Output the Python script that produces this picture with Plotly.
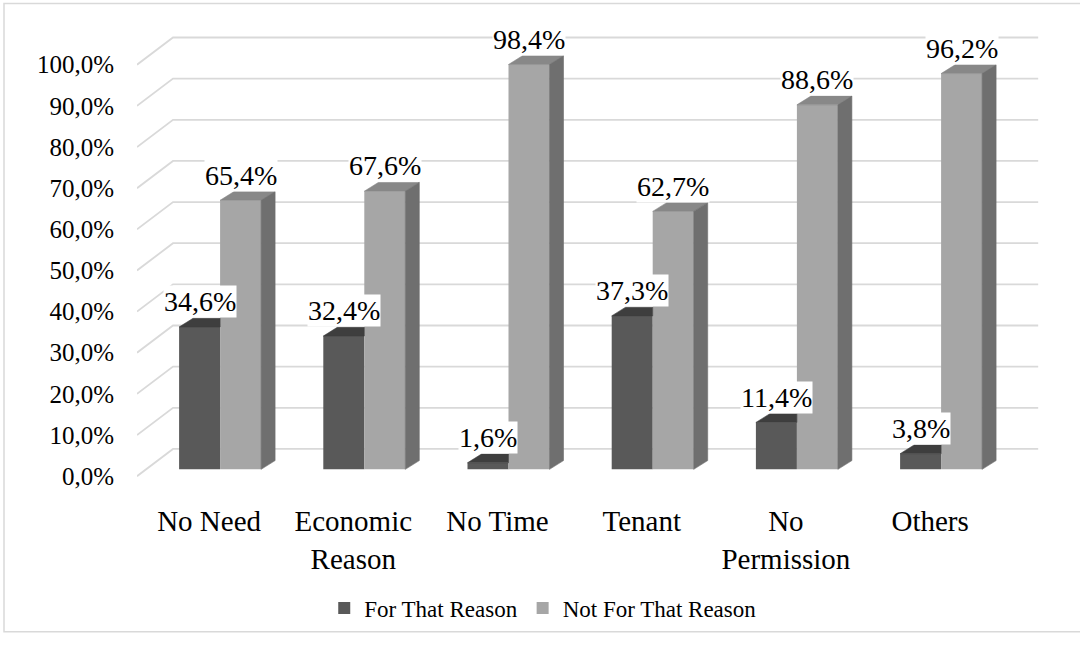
import plotly.graph_objects as go

# ---- data -------------------------------------------------------------
categories = ["No Need", "Economic<br>Reason", "No Time", "Tenant",
              "No<br>Permission", "Others"]
for_reason = [34.6, 32.4, 1.6, 37.3, 11.4, 3.8]
not_for_reason = [65.4, 67.6, 98.4, 62.7, 88.6, 96.2]
series_names = ["For That Reason", "Not For That Reason"]
y_ticks = [0, 10, 20, 30, 40, 50, 60, 70, 80, 90, 100]


def pct(v):
    return f"{v:.1f}".replace(".", ",") + "%"


y_tick_text = [pct(v) for v in y_ticks]

# ---- geometry of the pseudo-3D scene -----------------------------------
W, H = 1080, 652
M_L, M_R, M_T, M_B = 137, 35, 20, 157
PX_PER_CAT = 144.2          # pixels per category step
PX_PER_PCT = 4.23           # pixels per percentage point
FLOOR_PX = 489              # pixel row of the front floor edge (0 %)

plot_w = W - M_L - M_R
plot_h = H - M_T - M_B
x_range = [-0.5, -0.5 + plot_w / PX_PER_CAT]
y_lo = -((H - M_B) - FLOOR_PX) / PX_PER_PCT
y_range = [y_lo, y_lo + plot_h / PX_PER_PCT]


def dx(px):
    return px / PX_PER_CAT


def dy(px):
    return px / PX_PER_PCT


WALL_DX, WALL_DY = dx(36), dy(28)      # floor front edge -> back wall
FRONT_DX, FRONT_DY = dx(11), dy(7)     # floor front edge -> bar front faces
DEPTH_DX, DEPTH_DY = dx(14), dy(9)     # bar thickness in depth
BAR_W = dx(41)

DARK_FRONT, DARK_TOP = "#595959", "#3e3e3e"
LIGHT_FRONT, LIGHT_TOP, LIGHT_SIDE = "#a6a6a6", "#888888", "#6f6f6f"
GRID = "#d9d9d9"
FONT = "Liberation Serif"

pos = list(range(len(categories)))
bar_x = [p + FRONT_DX for p in pos]

fig = go.Figure()

# front faces
fig.add_trace(go.Bar(
    x=bar_x, y=for_reason, base=FRONT_DY, width=BAR_W, offset=-BAR_W,
    name=series_names[0], marker=dict(color=DARK_FRONT, line=dict(width=0)),
))
fig.add_trace(go.Bar(
    x=bar_x, y=not_for_reason, base=FRONT_DY, width=BAR_W, offset=0,
    name=series_names[1], marker=dict(color=LIGHT_FRONT, line=dict(width=0)),
))


def face(xs, ys, color):
    fig.add_trace(go.Scatter(
        x=xs + [xs[0]], y=ys + [ys[0]], mode="lines", fill="toself",
        fillcolor=color, line=dict(color=color, width=0.6),
        hoverinfo="skip", showlegend=False,
    ))


# top faces of the dark bars (right part sits behind the light bars)
for xc, v in zip(bar_x, for_reason):
    xl, xr, t = xc - BAR_W, xc, FRONT_DY + v
    face([xl, xr, xr, xl + DEPTH_DX],
         [t, t, t + DEPTH_DY, t + DEPTH_DY], DARK_TOP)

# top and side faces of the light bars
for xc, v in zip(bar_x, not_for_reason):
    xl, xr, t, b = xc, xc + BAR_W, FRONT_DY + v, FRONT_DY
    face([xl, xr, xr + DEPTH_DX, xl + DEPTH_DX],
         [t, t, t + DEPTH_DY, t + DEPTH_DY], LIGHT_TOP)
    face([xr, xr, xr + DEPTH_DX, xr + DEPTH_DX],
         [b, t, t + DEPTH_DY, b + DEPTH_DY], LIGHT_SIDE)

# back wall gridlines with their diagonal side-wall runs
shapes = []
x_left, x_right = x_range[0], len(categories) - 0.5
for v in y_ticks:
    shapes.append(dict(
        type="path", xref="x", yref="y", layer="below",
        path=(f"M{x_left},{v} L{x_left + WALL_DX},{v + WALL_DY} "
              f"L{x_right + WALL_DX},{v + WALL_DY}"),
        line=dict(color=GRID, width=1.8),
    ))


# chart frame
def px_to_paper_x(px):
    return (px - M_L) / plot_w


def px_to_paper_y(py):
    return ((H - M_B) - py) / plot_h


shapes.append(dict(
    type="rect", xref="paper", yref="paper", layer="below",
    x0=px_to_paper_x(4), x1=px_to_paper_x(1082),
    y0=px_to_paper_y(649), y1=px_to_paper_y(3),
    line=dict(color=GRID, width=1.5),
))

# value labels
annotations = []
for vals, off in ((for_reason, -BAR_W / 2), (not_for_reason, BAR_W / 2)):
    for xc, v in zip(bar_x, vals):
        annotations.append(dict(
            x=xc + off, y=FRONT_DY + v + DEPTH_DY, xref="x", yref="y",
            text=pct(v),
            showarrow=False, yanchor="bottom", xanchor="center",
            font=dict(family=FONT, size=28, color="black"),
            bgcolor="white", borderpad=0,
        ))

fig.update_layout(
    width=W, height=H,
    margin=dict(l=M_L, r=M_R, t=M_T, b=M_B),
    paper_bgcolor="white", plot_bgcolor="white",
    barmode="overlay",
    shapes=shapes,
    annotations=annotations,
    xaxis=dict(
        range=x_range, tickmode="array", tickvals=pos, ticktext=categories,
        showgrid=False, zeroline=False, showline=False,
        ticks="outside", ticklen=13, tickcolor="rgba(0,0,0,0)",
        tickfont=dict(family=FONT, size=29, color="black"),
    ),
    yaxis=dict(
        range=y_range, tickmode="array", tickvals=y_ticks,
        ticktext=y_tick_text,
        showgrid=False, zeroline=False, showline=False,
        ticks="outside", ticklen=17, tickcolor="rgba(0,0,0,0)",
        tickfont=dict(family=FONT, size=25, color="black"),
    ),
    legend=dict(
        orientation="h", xref="container", yref="container",
        x=0.503, y=1 - 608 / H, xanchor="center", yanchor="middle",
        font=dict(family=FONT, size=23, color="black"),
        bgcolor="rgba(0,0,0,0)", itemwidth=30,
    ),
    showlegend=True,
)

fig.write_html("out.html")
